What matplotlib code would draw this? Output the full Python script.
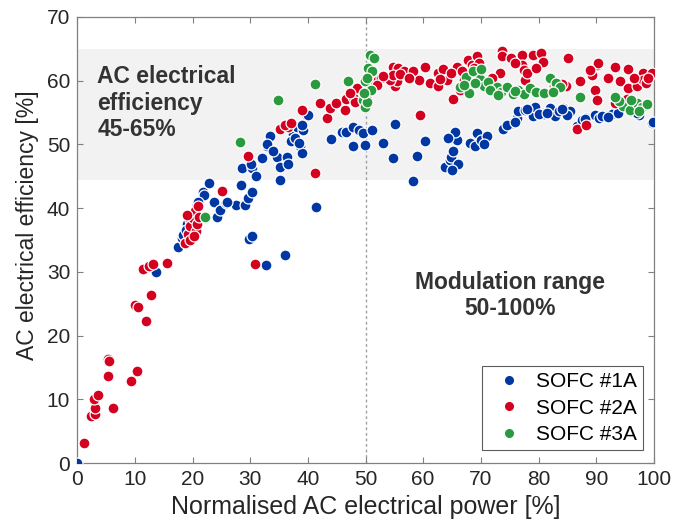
import matplotlib
matplotlib.use('Agg')
import matplotlib.pyplot as plt
from matplotlib.lines import Line2D

plt.rcParams['font.family'] = ['Liberation Sans', 'DejaVu Sans']

# SOFC #1A (blue)
x1 = [0.0, 13.6, 17.4, 18.1, 18.5, 19.8, 29.8, 30.3, 32.8, 36.0,
      18.4, 19.9, 19.0, 19.6, 20.2, 20.7, 21.9, 22.8, 23.7, 24.2, 24.8, 25.8,
      27.6, 28.4, 28.5, 29.1, 29.7, 30.3, 30.3, 30.2, 35.2,
      32.0, 32.9, 33.4, 34.6, 35.2, 36.3, 36.6, 37.5, 38.1, 38.6, 38.9, 39.2,
      39.8, 40.1, 41.5, 44.1, 45.9, 46.7, 47.9, 47.9, 48.8, 49.6, 51.1,
      49.9, 53.1, 54.7, 55.1, 58.2, 59.0, 60.3,
      63.8, 64.6, 64.9, 65.2, 65.8, 65.5, 64.3,
      68.1, 69.0, 69.3, 70.1, 71.0,
      73.8, 75.0, 76.2, 76.5, 77.6, 79.1, 79.4, 80.8, 82.0, 82.8, 84.3, 85.4,
      86.6, 88.3, 89.8, 91.8, 92.7, 99.6,
      78.0, 81.0, 83.5, 85.0, 87.5, 90.5, 93.8, 96.0, 97.5,
      37.0, 37.8, 38.4, 39.0, 33.0, 34.0, 31.0, 26.0, 22.0, 21.0, 18.8,
      66.0, 65.0, 70.5, 74.5, 76.0, 80.0, 81.5, 84.0, 88.0, 91.0, 92.0,
      97.0, 99.8]
y1 = [0.0, 30.0, 33.9, 35.3, 35.9, 35.5, 35.1, 35.6, 31.1, 32.6,
      35.8, 35.5, 37.6, 38.2, 39.2, 40.5, 42.6, 43.9, 40.9, 38.7, 39.7, 40.8,
      40.5, 43.6, 46.3, 40.5, 41.6, 42.6, 46.3, 47.0, 44.4,
      47.8, 49.7, 51.3, 48.1, 46.5, 48.1, 47.0, 51.7, 52.8, 49.7, 48.6, 52.3,
      54.4, 54.6, 40.2, 50.8, 52.0, 51.9, 52.8, 49.7, 52.3, 51.8, 52.3,
      49.9, 50.3, 47.9, 53.2, 44.3, 48.2, 50.5,
      46.4, 47.6, 48.1, 48.9, 50.7, 52.0, 51.0,
      50.2, 49.7, 51.8, 50.7, 51.3,
      52.4, 53.2, 54.1, 55.2, 55.4, 54.4, 55.9, 55.0, 55.7, 54.4, 55.7, 55.2,
      52.9, 54.1, 54.6, 54.4, 54.8, 53.3,
      55.6, 54.8, 55.2, 54.6, 53.8, 54.2, 54.9, 55.3, 54.6,
      50.5, 51.0, 50.2, 53.0, 50.0, 49.0, 45.0, 41.0, 42.0, 41.0, 36.6,
      47.0, 46.0, 50.0, 53.0, 53.5, 54.8, 55.0, 55.5, 54.0, 54.5, 54.3,
      55.0, 53.5]

# SOFC #2A (red)
x2 = [1.1, 2.4, 3.1, 3.1, 2.9, 3.6, 6.3, 5.3, 5.5, 5.4, 9.4, 10.3,
      10.1, 10.5, 12.0, 12.8, 11.5, 12.5, 13.2, 15.5, 30.8,
      18.7, 19.2, 19.6, 20.0, 20.4, 21.0, 19.0, 20.6,
      25.1, 29.7, 35.2, 36.6, 38.9, 41.2, 42.1, 43.3, 43.8, 44.9, 46.4, 46.7,
      47.9, 48.2, 48.5, 50.2, 47.3, 50.8, 51.6, 52.2, 52.7,
      54.8, 55.7, 56.6, 55.1, 55.4, 54.2, 54.8,
      58.3, 59.2, 60.3, 61.2, 62.6, 62.6, 63.5, 64.1, 65.2, 65.8, 66.4, 67.0,
      67.8, 68.4, 69.3, 69.6, 59.4,
      73.6, 73.6, 75.3, 77.1, 77.1, 77.4, 77.6, 79.1, 80.5, 80.8, 73.3,
      85.1, 87.2, 82.6, 83.1, 84.8, 89.2, 90.1, 90.3, 89.8, 90.1,
      93.2, 95.5, 98.1, 99.6, 94.1, 95.5, 97.0, 98.1, 98.7,
      93.2, 95.3, 86.6, 88.3,
      19.5, 20.2, 20.8, 21.2, 52.0, 53.0, 56.0, 57.5, 63.0, 64.8, 66.8, 68.8,
      72.0, 76.0, 78.0, 79.5, 84.0, 89.0, 92.0, 96.5, 99.0, 36.0, 37.0]
y2 = [3.1, 7.4, 7.7, 8.7, 10.0, 10.7, 8.6, 16.4, 16.0, 13.7, 12.9, 14.4,
      24.8, 24.5, 22.3, 26.4, 30.4, 30.9, 31.3, 31.4, 31.3,
      34.5, 36.0, 37.2, 38.4, 39.6, 40.4, 39.0, 36.5,
      42.7, 48.2, 52.5, 52.8, 55.4, 45.5, 56.5, 54.1, 55.7, 56.5, 55.4, 57.2,
      57.5, 56.7, 58.8, 57.0, 58.0, 59.6, 59.9, 60.1, 60.5,
      62.2, 62.0, 61.5, 59.1, 59.9, 60.1, 60.9,
      61.5, 60.1, 62.2, 59.6, 61.2, 59.1, 61.9, 60.1, 57.2, 62.2, 58.5, 60.1,
      63.3, 62.5, 63.8, 62.8, 54.6,
      64.6, 63.8, 63.5, 64.1, 62.5, 61.7, 60.1, 64.1, 64.3, 63.0, 61.2,
      63.5, 59.9, 59.1, 59.3, 59.1, 60.9, 62.5, 62.8, 58.6, 57.0,
      62.1, 61.9, 61.2, 61.2, 59.9, 58.8, 59.1, 60.1, 59.6,
      56.5, 57.2, 52.5, 53.1,
      35.0, 35.6, 37.5, 38.6, 59.3, 60.8, 61.0, 60.5, 60.3, 61.2, 61.6, 62.0,
      60.5, 62.8, 61.2, 62.0, 59.5, 61.7, 60.5, 60.5, 60.4, 53.0, 53.4]

# SOFC #3A (green)
x3 = [22.2, 28.2, 34.9, 41.2, 47.0,
      50.8, 51.4, 50.5, 51.1, 49.9, 49.6, 49.9, 50.2,
      66.4, 67.5, 68.6, 69.8, 70.5, 71.2, 72.0, 72.8, 68.0, 70.0,
      73.5, 74.5, 75.5, 76.5, 77.5, 78.5, 79.6,
      82.0, 83.0, 83.7, 87.2, 94.6, 95.8, 97.0, 98.0, 98.8,
      50.3, 51.0, 49.8, 67.0, 69.0, 71.5, 73.0, 76.0, 81.0, 82.5,
      96.0, 97.5, 94.0, 93.2]
y3 = [38.6, 50.4, 57.0, 59.5, 60.0,
      64.1, 63.5, 62.0, 61.5, 59.9, 57.0, 55.9, 56.7,
      59.0, 60.6, 61.5, 60.2, 59.2, 59.8, 58.6, 59.0, 58.0, 61.8,
      58.2, 59.0, 57.9, 58.5, 57.9, 58.8, 58.2,
      60.5, 59.6, 59.0, 57.5, 56.0, 55.4, 56.5, 55.8, 56.4,
      60.5, 58.5, 58.0, 59.4, 59.6, 58.6, 57.8, 58.4, 58.0, 58.2,
      56.9, 55.2, 56.8, 57.5]

labels = ['SOFC #1A', 'SOFC #2A', 'SOFC #3A']
colors = ['#0037a3', '#d4001f', '#2a9a3e']

fig = plt.figure(figsize=(6.89, 5.30), dpi=100)
ax = fig.add_axes([0.112, 0.126, 0.837, 0.842])

# efficiency band and modulation threshold
ax.axhspan(44.5, 65, color='#f2f2f2', zorder=0, lw=0)
ax.axvline(50, color='#a0a0a0', ls=(0, (2, 2)), lw=1.0, zorder=1)

for xs, ys, c in zip([x1, x2, x3], [y1, y2, y3], colors):
    ax.scatter(xs, ys, s=62, c=c, edgecolors='white', linewidths=0.9, zorder=3)

ax.text(3.5, 56.5, 'AC electrical\nefficiency\n45-65%', fontsize=16.5,
        fontweight='bold', color='#333333', va='center', ha='left',
        linespacing=1.2, zorder=4)
ax.text(75.0, 26.3, 'Modulation range\n50-100%', fontsize=16.5,
        fontweight='bold', color='#333333', va='center', ha='center',
        linespacing=1.2, zorder=4)

ax.set_xlim(0, 100)
ax.set_ylim(0, 70)
ax.set_xticks(range(0, 101, 10))
ax.set_yticks(range(0, 71, 10))
ax.tick_params(direction='in', top=True, right=True, length=4, width=0.8,
               color='#808080', labelsize=15, labelcolor='#262626', pad=5)
for sp in ax.spines.values():
    sp.set_color('#808080')
    sp.set_linewidth(0.9)

ax.set_xlabel('Normalised AC electrical power [%]', fontsize=18,
              color='#262626', labelpad=4)
ax.set_ylabel('AC electrical efficiency [%]', fontsize=16.5, color='#262626')
ax.yaxis.set_label_coords(-0.067, 0.534)

handles = [Line2D([], [], ls='none', marker='o', ms=5.5, mfc=c, mec=c)
           for c in colors]
leg = ax.legend(handles, labels, loc='lower right', fontsize=15,
                frameon=True, fancybox=False, edgecolor='#333333',
                borderpad=0.3, handletextpad=0.3, labelspacing=0.35,
                borderaxespad=0, bbox_to_anchor=(0.981, 0.029))
leg.get_frame().set_linewidth(0.8)

plt.savefig('out.png', dpi=100)
plt.close()
